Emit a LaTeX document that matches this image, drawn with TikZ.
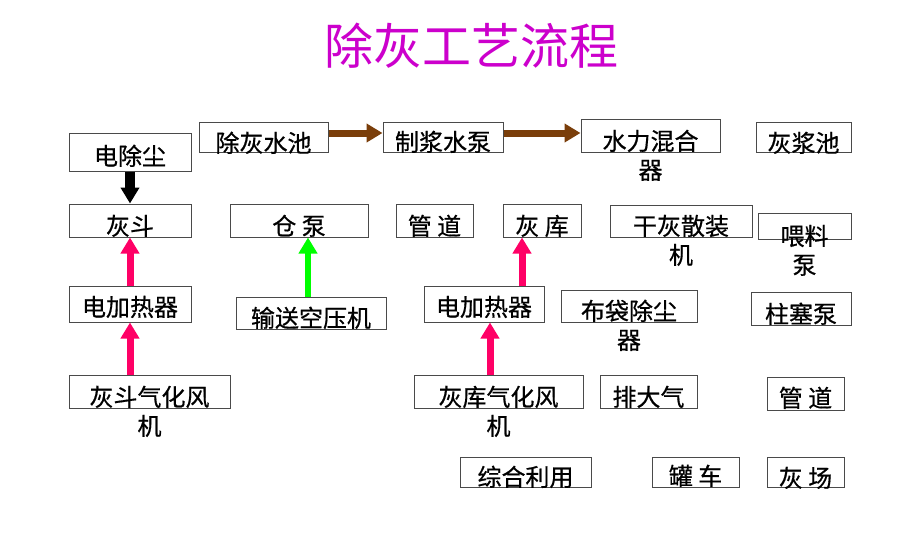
\documentclass[tikz,border=0pt]{standalone}
\usepackage{fontspec}
\newfontfamily\cjk[FakeBold=0.6]{Noto Sans CJK SC}
\newfontfamily\cjktitle{Noto Sans CJK SC}
\usetikzlibrary{arrows.meta,fit}
\definecolor{ttl}{HTML}{CC00CC}
\definecolor{pinkarr}{HTML}{FF0066}
\definecolor{greenarr}{HTML}{00FF00}
\definecolor{brownarr}{HTML}{7A3E0A}
\definecolor{boxline}{HTML}{4A4A4A}
\tikzset{
  box/.style={draw=boxline, line width=1pt, inner sep=0pt, rectangle},
  lbl/.style={anchor=base, inner sep=0pt, align=center, font=\cjk\fontsize{24}{29}\selectfont},
  fat/.style={line width=7pt, -{Triangle[width=18pt,length=16pt]}},
  blackarr/.style={fat, line width=10pt, black},
  brownline/.style={fat, brownarr},
  pinkline/.style={fat, pinkarr},
  greenline/.style={fat, line width=6pt, greenarr},
}
\begin{document}
\begin{tikzpicture}[x=1pt,y=-1pt]
\fill[white] (0,0) rectangle (920,549);
\useasboundingbox (0,0) rectangle (920,549);
% title
\node[anchor=base, inner sep=0pt, text=ttl, font=\cjktitle\fontsize{49}{55}\selectfont] (title) at (471,64) {除灰工艺流程};
% boxes
\node[box, fit={(69,133) (191,171)}] (dc) {};
\node[box, fit={(199,122) (328,152)}] (chsc) {};
\node[box, fit={(383,122) (503,152)}] (zjsb) {};
\node[box, fit={(581,119) (720,152)}] (slhh) {};
\node[box, fit={(756,122) (851,152)}] (hjc) {};
\node[box, fit={(69,204) (191,237)}] (hd) {};
\node[box, fit={(230,204) (368,237)}] (cb) {};
\node[box, fit={(396,204) (473,237)}] (gd1) {};
\node[box, fit={(503,204) (581,237)}] (hk) {};
\node[box, fit={(610,205) (752,237)}] (ghsz) {};
\node[box, fit={(758,213) (851,239)}] (wlb) {};
\node[box, fit={(69,286) (191,322)}] (jrL) {};
\node[box, fit={(236,297) (386,329)}] (sk) {};
\node[box, fit={(424,286) (544,322)}] (jrR) {};
\node[box, fit={(561,290) (697,322)}] (bdcc) {};
\node[box, fit={(751,292) (851,325)}] (zsb) {};
\node[box, fit={(69,375) (230,408)}] (fjL) {};
\node[box, fit={(414,375) (583,408)}] (fjR) {};
\node[box, fit={(600,375) (697,408)}] (pdq) {};
\node[box, fit={(767,377) (844,410)}] (gd2) {};
\node[box, fit={(460,457) (591,487)}] (zhly) {};
\node[box, fit={(652,457) (739,487)}] (gc) {};
\node[box, fit={(767,457) (844,487)}] (hc) {};
% labels (multi-line labels: base = last line)
\node[lbl] (t-dc) at (130,165) {电除尘};
\node[lbl] (t-chsc) at (263.5,152) {除灰水池};
\node[lbl] (t-zjsb) at (443,151) {制浆水泵};
\node[lbl] (t-slhh) at (650.5,179) {水力混合\\器};
\node[lbl] (t-hjc) at (803.5,152) {灰浆池};
\node[lbl] (t-hd) at (130,235) {灰斗};
\node[lbl] (t-cb) at (299,235) {仓 泵};
\node[lbl] (t-gd1) at (434.5,235) {管 道};
\node[lbl] (t-hk) at (542,235) {灰 库};
\node[lbl] (t-ghsz) at (681,264) {干灰散装\\机};
\node[lbl] (t-wlb) at (804.5,274) {喂料\\泵};
\node[lbl] (t-jrL) at (130,316) {电加热器};
\node[lbl] (t-sk) at (311,327) {输送空压机};
\node[lbl] (t-jrR) at (484,316) {电加热器};
\node[lbl] (t-bdcc) at (629,349) {布袋除尘\\器};
\node[lbl] (t-zsb) at (801,323) {柱塞泵};
\node[lbl] (t-fjL) at (149.5,435) {灰斗气化风\\机};
\node[lbl] (t-fjR) at (498.5,435) {灰库气化风\\机};
\node[lbl] (t-pdq) at (648.5,406) {排大气};
\node[lbl] (t-gd2) at (805.5,407) {管 道};
\node[lbl] (t-zhly) at (525.5,486) {综合利用};
\node[lbl] (t-gc) at (695.5,485) {罐 车};
\node[lbl] (t-hc) at (805.5,487) {灰 场};
% arrows
\draw[blackarr] (dc.south) -- (hd.north);
\draw[brownline] ([yshift=4pt]chsc.east) -- ([yshift=4pt]chsc.east -| zjsb.west);
\draw[brownline] ([yshift=4pt]zjsb.east) -- ([yshift=4pt]zjsb.east -| slhh.west);
\draw[pinkline] (jrL.north) -- (hd.south);
\draw[pinkline] (jrL.south |- fjL.north) -- (jrL.south);
\draw[greenline] ([xshift=-3pt]sk.north) -- ([xshift=-3pt]sk.north |- cb.south);
\draw[pinkline] ([xshift=-20pt]hk.south |- jrR.north) -- ([xshift=-20pt]hk.south);
\draw[pinkline] ([xshift=6pt]jrR.south |- fjR.north) -- ([xshift=6pt]jrR.south);
\end{tikzpicture}
\end{document}
